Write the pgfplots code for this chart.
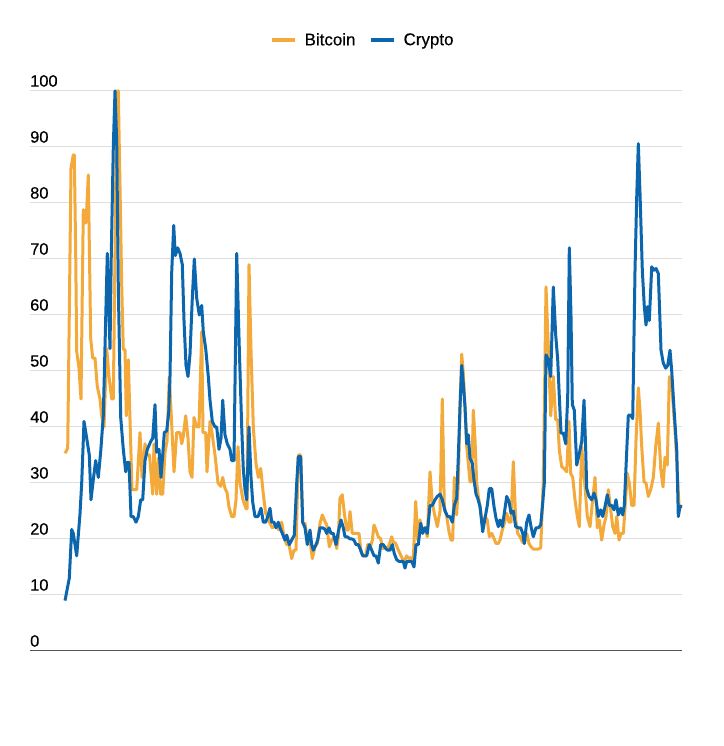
\documentclass[border=0pt]{standalone}
\usepackage{fontspec}
\setmainfont{Liberation Sans}
\newfontfamily\medfont[FakeBold=0.4]{Liberation Sans}
\usepackage{pgfplots}
\pgfplotsset{compat=1.18}
\definecolor{btc}{HTML}{F4A93B}
\definecolor{cry}{HTML}{0B66AE}
\definecolor{gridc}{HTML}{DEDEDE}
\definecolor{axc}{HTML}{555555}
\begin{document}
\begin{tikzpicture}[x=1bp,y=1bp]
\path (-30,-95) rectangle (694,651);
\begin{axis}[
    at={(0,0)}, anchor=south west,
    scale only axis, width=652bp, height=560bp,
    xmin=30, xmax=682, ymin=0, ymax=100,
    axis x line*=bottom, axis y line*=left,
    y axis line style={draw=none},
    x axis line style={draw=axc, line width=1bp},
    xtick=\empty,
    ytick={0,10,...,100},
    major tick length=0pt,
    ymajorgrids, grid style={draw=gridc, line width=1bp},
    yticklabel style={anchor=south west, inner sep=0pt, yshift=4bp, font=\medfont\fontsize{16.5}{19}\selectfont},
    /pgf/number format/assume math mode=true,
    clip=false,
    legend columns=2,
    legend style={at={(axis description cs:0.5,1)}, anchor=center, xshift=7bp, yshift=51bp,
        draw=none, font=\medfont\fontsize{17}{20}\selectfont,
        /tikz/every even column/.append style={column sep=12bp}},
    legend image code/.code={\draw[#1, line width=3.3bp] (0bp,0bp) -- (23bp,0bp); \path (29bp,0bp);},
    every axis plot/.append style={line width=3bp, line join=round},
]
\addplot[btc, mark=none] coordinates {
(65,35.3) (67.7,36.2) (70,71) (71,86.2) (73.3,88.6) (74.3,88.6) (75.7,71) (76.7,53.5)
(79,50.5) (81,45) (83.3,78.8) (85.7,76.4) (86.7,78.8) (88.3,85) (90.7,55.8) (92.7,52.3)
(95,52.3) (97.3,47.2) (100,45) (101.7,42) (104,40) (106.7,54) (109,49) (111.7,45)
(113.3,45) (115,71) (116.7,100) (118.3,100) (120,83) (121.7,65.4) (123.3,53.8) (125,53.8)
(126.3,42) (128.3,52) (132,28.8) (136.7,28.8) (140,39) (142,31) (145,37) (147,35)
(149.5,35) (152.7,28) (154,37) (156.7,28) (158.7,34.5) (160.7,28) (162.7,28) (165,35.5)
(167,37.4) (169.3,49) (171.7,40.5) (174,32) (176.7,39) (180,39) (181.7,37) (183,38)
(185.7,42) (188,38) (190,32) (192,31) (194,41.7) (196.7,40) (199,40) (201.7,57)
(203,39) (205.7,39) (207,32) (210,41) (212,39) (215,35) (218,30) (220.7,29.4)
(222.7,31) (225,29) (227,28.3) (229,25.7) (231.7,24) (234,24) (236,27) (238,36.5)
(240,30) (243,27) (246,25.4) (247,25.4) (249,69) (251,53.7) (253.3,40) (256,33.5)
(258.3,31) (260.7,32.6) (263.3,28) (265.7,24.6) (267.7,24) (270,22.8) (272.3,22) (274.3,22.3)
(276.7,22.5) (279,21.6) (281.7,23) (284,20.4) (286.7,19) (289,19) (291.7,16.5) (294,18)
(296,18) (298.3,35) (300.7,35) (302.7,22.8) (305,22.8) (307.3,19.8) (310,19.8) (312.3,16.5)
(315,18.6) (317.3,19.2) (320,22.8) (322.3,24.3) (324.3,23.4) (326.7,22.5) (329.3,18.6) (331.7,19.8)
(334,20.4) (336.7,18.3) (338.3,20.4) (340,27.3) (342.3,27.9) (344.3,24.6) (346.7,21.6) (348.3,21.6)
(350,24.9) (352.3,21) (354.3,21) (356.7,21) (359,21) (361,17.7) (363.3,17) (365.7,17)
(367.7,19) (370,18.3) (372.3,19.8) (374,22.5) (376,21.6) (378.3,20.4) (380.7,20) (382.7,18.3)
(385,18.6) (387.3,18.3) (389.3,19) (391.7,20.4) (393.3,19.5) (395.7,19.2) (397.7,18.3) (400,17.4)
(402.3,16.5) (404.3,16) (406.7,17) (409,16.5) (411,16.7) (413.3,16.3) (415.7,26.7) (417.7,19.8)
(420,23.4) (422.3,21.7) (425,22) (427.3,20.4) (430,32) (432.3,26.4) (435,24) (437.3,22.2)
(440,25) (442.3,45) (444.3,25.8) (446.7,24) (449,21.3) (451,19.8) (452.7,19.8) (454.3,31)
(456.7,24.3) (458.3,30) (460,43.6) (461.7,53) (463.3,49.6) (465,43.6) (466.7,36.5) (468.3,33.5)
(470,30.2) (471.7,30.2) (473.3,43) (475,37.7) (476.7,30) (478.3,27.6) (480,25.8) (482.7,22.2)
(485,24) (487.3,23.4) (489.3,20.4) (491.7,21) (494,20.1) (496,19.2) (498.3,19.2) (500,19.8)
(502.3,21.6) (504.3,22.8) (506.7,24.6) (509,23) (511,23) (513.3,33.8) (515.7,23.4) (517.7,21)
(520,20.4) (522.3,19.5) (524.3,19.2) (526.7,21) (529,19.2) (531,18.6) (533.3,18.2) (536,18.2)
(538.3,18.2) (540.7,18.4) (543.3,30.5) (546,65) (548.3,54.3) (550.7,42) (553.3,49) (555.7,41.3)
(557.7,41.3) (559.3,35.9) (561.7,32.9) (564,32.6) (566.7,32) (569,41) (570.7,31.7) (572.7,31)
(575,27) (577.3,24) (579.3,22.2) (581.7,36.5) (583.3,33) (585,29.3) (587.3,24) (590,22.2)
(592.3,26.4) (595,31) (597.3,22) (599.3,23.4) (601.7,19.8) (604,22.5) (606,24) (608.3,28.8)
(610.7,25.2) (612.7,22.2) (615,21) (616.7,24) (619,19.8) (621,21) (623.3,21) (625,25.5)
(627.3,31.7) (629.3,30) (631.7,26) (634,26) (636,37.7) (638.3,47) (640,43) (641.7,36.5)
(644,30.2) (646,30) (648.3,27.6) (650.7,28.8) (653.3,31) (655.7,36.5) (658.3,40.7) (660.7,32.6)
(663,29.3) (665,34.6) (667.3,33.2) (669.3,49) (671.7,47.7) (673.3,43.6) (675,39.4) (677,33)
(679,26) (682,25.8)
};
\addlegendentry{Bitcoin}
\addplot[cry, mark=none] coordinates {
(65,9) (69.3,13) (71.7,21.7) (73.3,21) (76.7,17) (80,24.5) (81.7,30) (84,41)
(86.7,38) (89.3,35) (91,27) (93.3,30.6) (95.7,34) (98.3,31) (100.7,35.6) (103.3,42)
(105.3,56.5) (107.3,71) (110,54) (111.3,71) (113.3,90) (115,100) (116.7,91) (118.3,65)
(120.7,41.7) (123.3,36) (125.7,32) (127.3,33.7) (129,33.7) (131,24) (133.3,24) (136,23)
(138.3,24) (140.7,27) (142.7,27) (145,34) (147.3,36) (150.7,37.4) (152.7,38) (155,44)
(156.7,35.5) (159,36) (161,31) (162.7,35) (164.3,39) (166.7,39.3) (168.7,42.6) (170,49)
(171.7,67.6) (173.7,76) (175.3,70.6) (177.7,72) (180,71) (182.3,69) (184,59) (186,51)
(188,49) (190,53) (192.3,63) (194.3,70) (196.7,63) (199.3,60) (201.7,61.7) (203.3,57)
(205.7,54) (208.3,49) (210,44.8) (212.3,41) (215,40) (216.7,40) (219,36) (221,38)
(222.7,44.8) (225,38.6) (227.3,37) (230,36) (231.7,34) (234,34) (236.7,71) (239.3,54)
(241.7,40) (243.3,32.5) (245,28.8) (246.7,27) (249,40) (251,31) (252.7,26.6) (255,24)
(258,24) (261,25.5) (263.3,23) (265.7,23) (267.7,24) (270,25.5) (271.7,23) (274,23)
(276,22) (278.3,23) (280,22) (282.3,21) (285,19.8) (286.7,20.7) (289.3,19) (291.7,19.8)
(294.3,20.7) (296.7,30) (298.3,34.7) (300.7,34.7) (302.7,23) (305,22) (307.3,19) (310,21.6)
(311.7,19) (313.3,18) (316,19) (317.7,19.8) (320,22) (322.7,22) (325,21.7) (326.7,21)
(329,22) (331,21) (333.3,21) (336,19) (338.3,21.3) (341,23.4) (343.3,22) (345,20.4)
(347.3,20.4) (350,20) (352,20) (354,19.8) (356,19) (358.3,19) (360.7,18) (362.7,17)
(365,17) (366.7,17) (369.3,19) (371.7,18) (374,17) (376,17) (378.3,15.7) (380.7,19)
(383.3,19) (385.7,18.3) (387.7,18) (390,18) (392.3,19) (394.3,17.4) (396.7,16.3) (399,16)
(401,16) (403.3,16) (405,14.8) (406.7,16) (409,16) (411.7,16) (414,15) (416,19)
(418.3,19) (420.7,22.8) (422.7,21) (425,22) (427.3,21) (430,26) (432.3,26) (435,27)
(437.3,27.6) (440,28) (442.3,27) (445,25) (447.7,24) (450,24) (452.3,23) (454.3,26)
(456.7,27.3) (458.3,34.7) (460,43.6) (461.7,51) (463.3,47.8) (465,43.6) (466.7,37) (468.3,38.6)
(470,34.4) (472.3,33.5) (474,30.5) (476,28) (477.7,27.3) (480,25.8) (482.7,21.3) (485,23.7)
(487.3,26) (489.3,29) (491.7,29) (494,25.8) (496,23.7) (498.3,22.2) (500,23.4) (502.3,22.2)
(504.3,24.6) (506.7,27.6) (509,26.7) (511,24.6) (513.3,25) (515.7,22.2) (518.3,22) (520.7,22)
(522.7,21) (524.3,19.2) (526.7,23) (529,24.3) (531,22.2) (533.3,20.4) (536,22) (538.3,22)
(540.7,22.5) (542.7,26.4) (544.3,30) (546,52.9) (548.3,52) (550.7,49) (553.3,65) (555.7,56.4)
(557.7,52) (559.3,45.4) (561,38.9) (563.3,38.9) (565.7,37) (567.7,45.4) (569.3,72) (571,59.7)
(572.3,44) (574.3,43) (576.7,33.2) (579,35) (581.7,37.4) (584,44.8) (585.7,35.9) (586.7,29)
(589,27.6) (591.7,27) (594,28.2) (596,27) (598.3,24) (600.7,25.2) (602.7,24) (605,25.8)
(607.3,27.9) (609.3,26) (611.7,26) (614,25.2) (616,27) (618.3,24.3) (620.7,25.5) (622.7,24.3)
(624.3,26) (628.3,42.1) (630.7,42.1) (632.7,41.5) (635,68) (636.7,81) (638.3,90.6) (640,81.7)
(642.3,68) (644.3,61.5) (646,58.2) (647.7,61.5) (649.3,59) (651.7,68.6) (654,68) (656,68.3)
(658.3,67.4) (661,53.7) (663.3,51.4) (665.7,50.5) (667.7,51) (670,53.7) (671.7,50) (674.3,42.4)
(676.7,36) (678.3,24) (680,25.8) (682,25.8)
};
\addlegendentry{Crypto}
\end{axis}
\end{tikzpicture}
\end{document}
